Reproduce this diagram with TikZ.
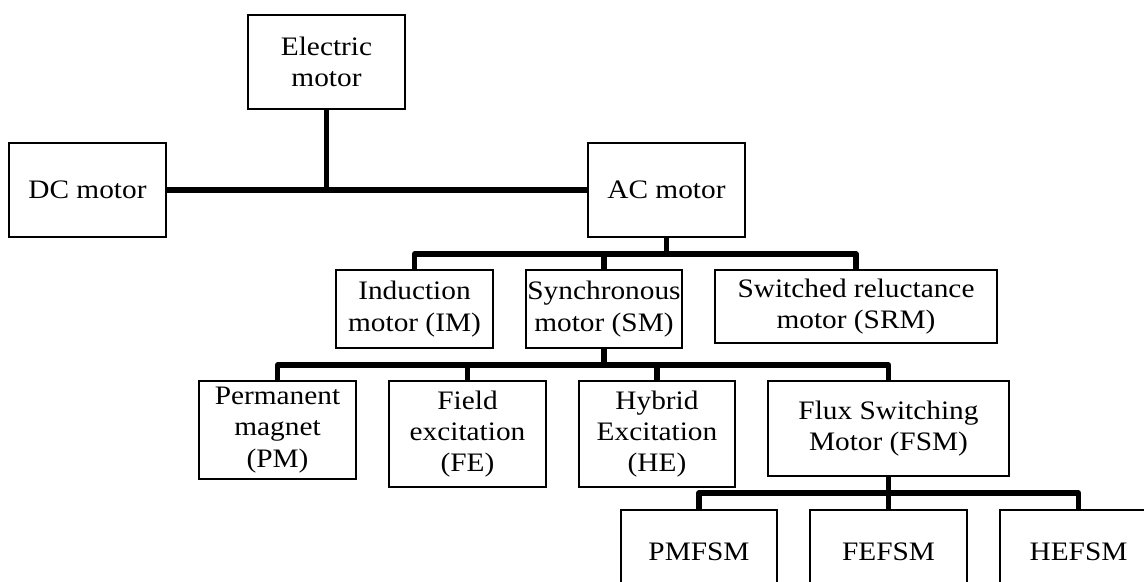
\documentclass[tikz,border=0pt]{standalone}
\usepackage{fontspec}
\setmainfont{Liberation Serif}[FakeStretch=1.1]
\begin{document}
\begin{tikzpicture}[x=0.75pt,y=-0.75pt,
  box/.style={draw=black,line width=0.8pt,rectangle,inner sep=0pt,align=center,
    font=\fontsize{20}{23.5}\selectfont},
  conn/.style={draw=black,line width=3.8pt,line join=round}]
\useasboundingbox (0,0) rectangle (1144,581);
\clip (0,0) rectangle (1144,581);
% nodes
\node[box,minimum width=157*0.75pt,minimum height=94*0.75pt] (EM) at (326.5,62) {Electric\\motor};
\node[box,minimum width=157*0.75pt,minimum height=94*0.75pt] (DC) at (87.5,190) {DC motor};
\node[box,minimum width=157*0.75pt,minimum height=94*0.75pt] (AC) at (666.5,190) {AC motor};
\node[box,minimum width=157*0.75pt,minimum height=78*0.75pt] (IM) at (414.5,309) {Induction\\motor (IM)};
\node[box,minimum width=156*0.75pt,minimum height=78*0.75pt] (SM) at (604,309) {Synchronous\\motor (SM)};
\node[box,minimum width=282*0.75pt,minimum height=73*0.75pt] (SRM) at (856,306.5) {Switched reluctance\\motor (SRM)};
\node[box,minimum width=157*0.75pt,minimum height=98*0.75pt] (PM) at (277.5,430) {Permanent\\magnet\\(PM)};
\node[box,minimum width=157*0.75pt,minimum height=106*0.75pt] (FE) at (467.5,434) {Field\\excitation\\(FE)};
\node[box,minimum width=156*0.75pt,minimum height=106*0.75pt] (HE) at (657,434) {Hybrid\\Excitation\\(HE)};
\node[box,minimum width=241*0.75pt,minimum height=95*0.75pt] (FSM) at (888.5,428.5) {Flux Switching\\Motor (FSM)};
\node[box,minimum width=156*0.75pt,minimum height=84*0.75pt] (PMFSM) at (699,552) {PMFSM};
\node[box,minimum width=157*0.75pt,minimum height=84*0.75pt] (FEFSM) at (888.5,552) {FEFSM};
\node[box,minimum width=157*0.75pt,minimum height=84*0.75pt] (HEFSM) at (1078.5,552) {HEFSM};
% buses
\coordinate (b0) at (326.5,190);
\coordinate (b1) at (666.5,254);
\coordinate (b2) at (604,365);
\coordinate (b3) at (888.5,493);
% connectors
\draw[conn] (DC.east) -- (AC.west);
\draw[conn] (EM.south) -- (b0);
\draw[conn] (AC.south) -- (b1);
\draw[conn] (IM.north) -- (IM.north |- b1) -- (SRM.north |- b1) -- (SRM.north);
\draw[conn] (SM.north) -- (SM.north |- b1);
\draw[conn] (SM.south) -- (b2);
\draw[conn] (PM.north) -- (PM.north |- b2) -- (FSM.north |- b2) -- (FSM.north);
\draw[conn] (FE.north) -- (FE.north |- b2);
\draw[conn] (HE.north) -- (HE.north |- b2);
\draw[conn] (FSM.south) -- (b3);
\draw[conn] (PMFSM.north) -- (PMFSM.north |- b3) -- (HEFSM.north |- b3) -- (HEFSM.north);
\draw[conn] (FEFSM.north) -- (FEFSM.north |- b3);
\end{tikzpicture}
\end{document}
